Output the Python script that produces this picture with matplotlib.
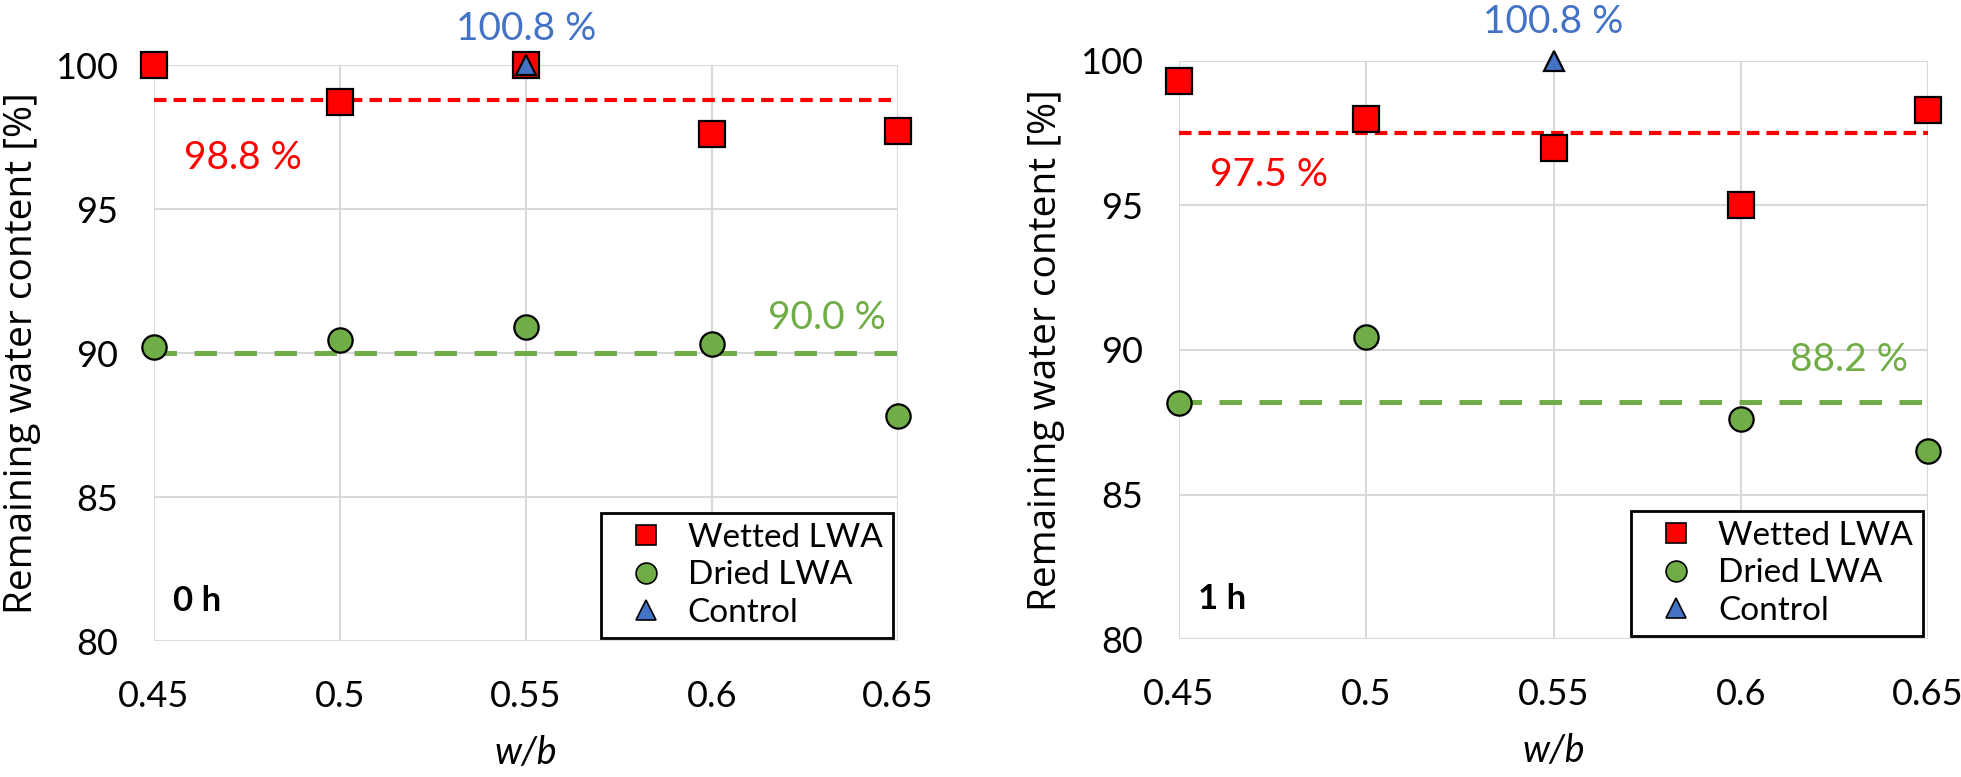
import matplotlib
matplotlib.use("Agg")
import matplotlib.pyplot as plt
from matplotlib.lines import Line2D

# w/b ratios
wb = [0.45, 0.5, 0.55, 0.6, 0.65]

# 0 h results
wetted_0h = [100.0, 98.7, 100.0, 97.6, 97.7]
dried_0h = [90.2, 90.45, 90.9, 90.3, 87.8]
mean_wetted_0h = 98.8
mean_dried_0h = 90.0

# 1 h results (no dried sample at 0.55)
wetted_1h = [99.3, 98.0, 97.0, 95.0, 98.3]
wb_dried_1h = [0.45, 0.5, 0.6, 0.65]
dried_1h = [88.15, 90.45, 87.6, 86.5]
mean_wetted_1h = 97.5
mean_dried_1h = 88.2

# control, shown clipped at 100 with its true value as a label
control_wb = 0.55
control_val = 100.8

RED = "#FF0000"
GREEN = "#70AD47"
BLUE = "#4472C4"
GRID = "#D9D9D9"
TICKFONT = "Lato"
LABFONT = "Open Sans"


def draw_panel(ax, wet, wb_dry, dry, m_wet, m_dry, tag, wet_lab, dry_lab, ctrl_lab):
    ax.set_xlim(0.45, 0.65)
    ax.set_ylim(80, 100)
    ax.set_xticks(wb)
    ax.set_xticklabels(["0.45", "0.5", "0.55", "0.6", "0.65"])
    ax.set_yticks([80, 85, 90, 95, 100])
    ax.grid(True, color=GRID, linewidth=1.5)
    ax.set_axisbelow(True)
    for s in ax.spines.values():
        s.set_visible(False)
    ax.tick_params(length=0, labelsize=26)
    ax.tick_params(axis="y", pad=26)
    ax.tick_params(axis="x", pad=28)
    for lab in ax.get_xticklabels() + ax.get_yticklabels():
        lab.set_fontfamily(TICKFONT)

    # mean lines
    ax.axhline(m_wet, color=RED, linewidth=3.0, dashes=(3.0, 1.7), zorder=2)
    ax.axhline(m_dry, color=GREEN, linewidth=3.6, dashes=(4.5, 3.5), zorder=2)

    ax.plot(wb, wet, linestyle="none", marker="s", markersize=18.5,
            markerfacecolor=RED, markeredgecolor="black", markeredgewidth=1.6,
            clip_on=False, zorder=4)
    ax.plot(wb_dry, dry, linestyle="none", marker="o", markersize=17.5,
            markerfacecolor=GREEN, markeredgecolor="black", markeredgewidth=1.6,
            clip_on=False, zorder=4)
    ax.plot([control_wb], [min(control_val, 100)], linestyle="none", marker="^",
            markersize=15, markerfacecolor=BLUE, markeredgecolor="black",
            markeredgewidth=1.6, clip_on=False, zorder=5)

    ax.text(*wet_lab, f"{m_wet:.1f} %", color=RED, fontsize=28,
            family=TICKFONT, ha="center", va="center")
    ax.text(*dry_lab, f"{m_dry:.1f} %", color=GREEN, fontsize=28,
            family=TICKFONT, ha="center", va="center")
    ax.text(*ctrl_lab, f"{control_val:.1f} %", color=BLUE, fontsize=28,
            family=TICKFONT, ha="center", va="center", clip_on=False)
    ax.text(0.025, 0.07, tag, transform=ax.transAxes, fontsize=25,
            fontweight="bold", family=TICKFONT, ha="left", va="center")

    ax.set_xlabel("w/b", fontsize=27, family=TICKFONT, style="italic", labelpad=16)
    ax.set_ylabel("Remaining water content [%]", fontsize=28, family=LABFONT)
    ax.yaxis.set_label_coords(-0.152, 0.5)

    handles = [
        Line2D([], [], linestyle="none", marker="s", markersize=14,
               markerfacecolor=RED, markeredgecolor="black", markeredgewidth=1.2),
        Line2D([], [], linestyle="none", marker="o", markersize=15,
               markerfacecolor=GREEN, markeredgecolor="black", markeredgewidth=1.2),
        Line2D([], [], linestyle="none", marker="^", markersize=14,
               markerfacecolor=BLUE, markeredgecolor="black", markeredgewidth=1.2),
    ]
    leg = ax.legend(handles, ["Wetted LWA", "Dried LWA", "Control"],
                    loc="lower right", bbox_to_anchor=(0.993, 0.006),
                    prop={"family": TICKFONT, "size": 24}, frameon=True,
                    fancybox=False, edgecolor="black", framealpha=1,
                    handletextpad=0.2, labelspacing=0.22, borderpad=0.3,
                    handlelength=2.1, borderaxespad=0.0)
    leg.get_frame().set_linewidth(2)
    leg.set_zorder(6)


fig = plt.figure(figsize=(19.61, 7.77), dpi=100)
ax1 = fig.add_axes([0.0785, 0.175, 0.3794, 0.7413])
ax2 = fig.add_axes([0.6012, 0.1776, 0.382, 0.7439])

draw_panel(ax1, wetted_0h, wb, dried_0h, mean_wetted_0h, mean_dried_0h, "0 h",
           (0.474, 96.77), (0.631, 91.2), (0.55, 101.25))
draw_panel(ax2, wetted_1h, wb_dried_1h, dried_1h, mean_wetted_1h, mean_dried_1h, "1 h",
           (0.474, 96.06), (0.629, 89.65), (0.55, 101.35))

fig.savefig("out.png", dpi=100)
